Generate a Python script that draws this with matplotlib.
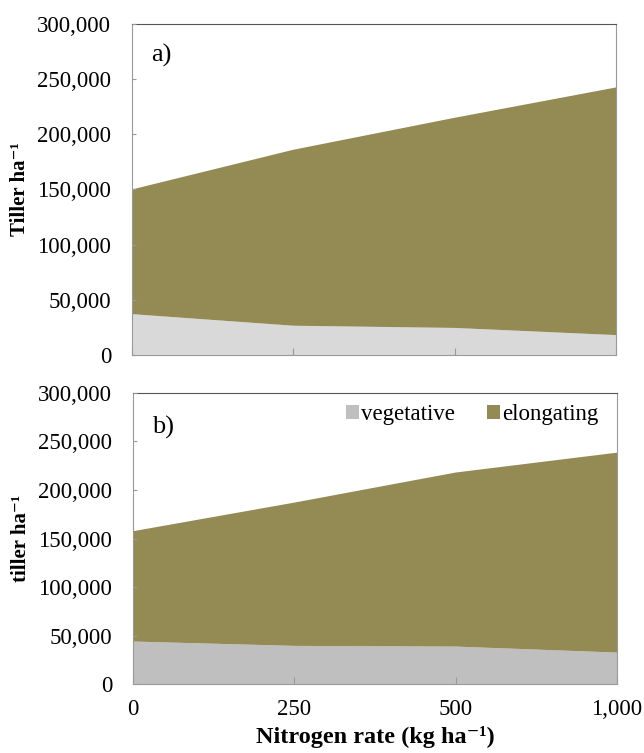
import numpy as np
import matplotlib
matplotlib.use("Agg")
import matplotlib.pyplot as plt
from matplotlib.ticker import FuncFormatter

plt.rcParams['font.family'] = ['Liberation Serif', 'DejaVu Serif']

# nitrogen rates (category axis)
rates = ["0", "250", "500", "1,000"]

# panel a) tiller counts per ha
veg_a = [37000, 26500, 24500, 18000]
total_a = [150000, 186000, 215000, 242500]
elong_a = [t - v for t, v in zip(total_a, veg_a)]

# panel b)
veg_b = [43800, 39300, 38600, 32400]
total_b = [157500, 187000, 218000, 238500]
elong_b = [t - v for t, v in zip(total_b, veg_b)]

olive = "#948A54"
x = np.arange(len(rates))

fig = plt.figure(figsize=(6.44, 7.53), dpi=100)
ax1 = fig.add_axes([0.205, 0.5286, 0.752, 0.4396])
ax2 = fig.add_axes([0.2065, 0.0916, 0.7516, 0.3865])

fmt = FuncFormatter(lambda v, p: "{:,.0f}".format(v))


def style(ax):
    ax.set_xlim(0, len(rates) - 1)
    ax.set_ylim(0, 300000)
    ax.set_yticks(np.arange(0, 300001, 50000))
    ax.yaxis.set_major_formatter(fmt)
    ax.set_xticks(x)
    ax.tick_params(axis="y", direction="in", length=3, color="#999999",
                   labelsize=16.5, pad=15)
    ax.tick_params(axis="x", direction="in", length=5, color="#999999",
                   labelsize=16.5, pad=11)
    for s in ["left", "bottom", "right"]:
        ax.spines[s].set_color("#999999")
    ax.spines["top"].set_color("#555555")
    ax.set_axisbelow(False)


sup = "\u207b\u00b9"

ax1.stackplot(x, veg_a, elong_a, colors=["#D9D9D9", olive], lw=0)
style(ax1)
ax1.set_xticklabels([])
ax1.text(0.04, 0.94, "a)", transform=ax1.transAxes, fontsize=19, va="top")
ax1.set_ylabel("Tiller ha" + sup, fontsize=15, fontweight="bold")
ax1.yaxis.set_label_coords(-0.21, 0.5)

ax2.stackplot(x, veg_b, elong_b, colors=["#BFBFBF", olive], lw=0,
              labels=["vegetative", "elongating"])
style(ax2)
ax2.set_xticklabels(rates)
ax2.text(0.04, 0.92, "b)", transform=ax2.transAxes, fontsize=19, va="top")
ax2.set_ylabel("tiller ha" + sup, fontsize=15, fontweight="bold")
ax2.yaxis.set_label_coords(-0.21, 0.5)
ax2.set_xlabel("Nitrogen rate (kg ha" + sup + ")", fontsize=17.5,
               fontweight="bold", labelpad=4)
ax2.legend(loc="upper right", ncol=2, frameon=False, fontsize=16.5,
           handlelength=0.55, handleheight=0.55, handletextpad=0.1,
           columnspacing=1.4, borderaxespad=0.1, bbox_to_anchor=(0.985, 1.0))

fig.savefig("out.png", dpi=100)
